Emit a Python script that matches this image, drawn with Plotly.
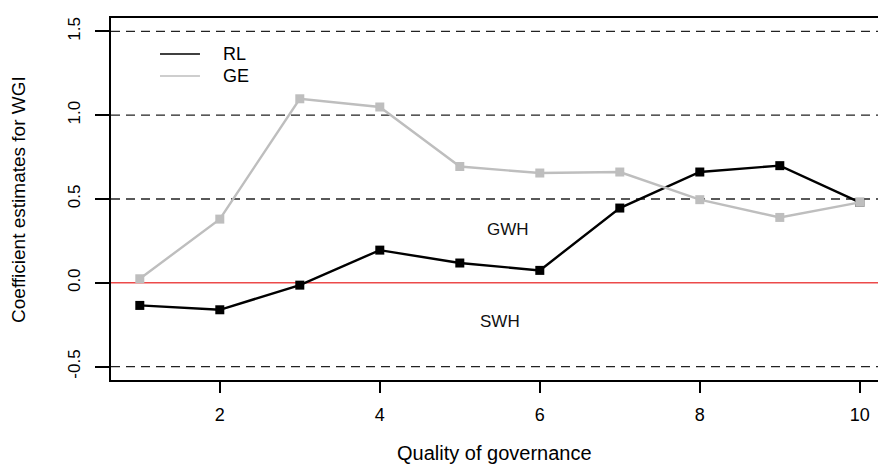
import plotly.graph_objects as go

# Quality-of-governance deciles and WGI coefficient estimates
quality = [1, 2, 3, 4, 5, 6, 7, 8, 9, 10]
rl_coef = [-0.135, -0.161, -0.014, 0.195, 0.118, 0.074, 0.446, 0.661, 0.699, 0.48]
ge_coef = [0.024, 0.380, 1.098, 1.049, 0.694, 0.655, 0.661, 0.496, 0.390, 0.48]

x_ticks = [2, 4, 6, 8, 10]
y_ticks = [-0.5, 0.0, 0.5, 1.0, 1.5]
y_tick_text = ["-0.5", "0.0", "0.5", "1.0", "1.5"]
dashed_levels = [-0.5, 0.5, 1.0, 1.5]
zero_level = 0.0

FONT = "Liberation Sans, Arial, Helvetica, sans-serif"
GREY = "#BEBEBE"

fig = go.Figure()

fig.add_trace(go.Scatter(
    x=quality, y=rl_coef, mode="lines+markers", name="RL",
    line=dict(color="black", width=2.4),
    marker=dict(symbol="square", size=9, color="black"),
    showlegend=False,
))
fig.add_trace(go.Scatter(
    x=quality, y=ge_coef, mode="lines+markers", name="GE",
    line=dict(color=GREY, width=2.4),
    marker=dict(symbol="square", size=9, color=GREY),
    showlegend=False,
))

# horizontal reference lines
for lvl in dashed_levels:
    fig.add_shape(type="line", xref="paper", yref="y", x0=0, x1=1, y0=lvl, y1=lvl,
                  line=dict(color="#222222", width=1.3, dash="9px,6px"), layer="below")
fig.add_shape(type="line", xref="paper", yref="y", x0=0, x1=1, y0=zero_level, y1=zero_level,
              line=dict(color="#EC4A4A", width=1.6), layer="below")

# region labels
fig.add_annotation(x=5.6, y=0.32, xref="x", yref="y", text="GWH", showarrow=False,
                   font=dict(family=FONT, size=17, color="#111111"))
fig.add_annotation(x=5.5, y=-0.23, xref="x", yref="y", text="SWH", showarrow=False,
                   font=dict(family=FONT, size=17, color="#111111"))

# legend (line keys with labels, no frame)
legend_items = [("RL", "black", 0.9006), ("GE", GREY, 0.8398)]
for label, colour, ypos in legend_items:
    fig.add_shape(type="line", xref="paper", yref="paper", x0=0.0639, x1=0.1160,
                  y0=ypos, y1=ypos, line=dict(color=colour, width=1.6))
    fig.add_annotation(x=0.1434, y=ypos, xref="paper", yref="paper", text=label,
                       showarrow=False, xanchor="left", yanchor="middle",
                       font=dict(family=FONT, size=18, color="black"))

# axis titles
fig.add_annotation(x=0.5, y=-0.203, xref="paper", yref="paper",
                   text="Quality of governance", showarrow=False,
                   xanchor="center", yanchor="middle",
                   font=dict(family=FONT, size=20, color="black"))
fig.add_annotation(x=-0.1213, y=0.5, xref="paper", yref="paper",
                   text="Coefficient estimates for WGI", showarrow=False, textangle=-90,
                   xanchor="center", yanchor="middle",
                   font=dict(family=FONT, size=19, color="black"))

fig.update_xaxes(
    range=[0.64, 10.2275], tickvals=x_ticks, ticks="outside", ticklen=11, tickwidth=1.5,
    tickcolor="black", showline=True, linecolor="black", linewidth=2, mirror=True,
    showgrid=False, zeroline=False, ticklabelstandoff=6,
    tickfont=dict(family=FONT, size=18, color="black"),
)
fig.update_yaxes(
    range=[-0.58, 1.58], tickvals=y_ticks, ticktext=y_tick_text, tickangle=-90,
    ticks="outside", ticklen=14, tickwidth=1.5, tickcolor="black",
    showline=True, linecolor="black", linewidth=2, mirror=False,
    showgrid=False, zeroline=False, ticklabelstandoff=8,
    tickfont=dict(family=FONT, size=17, color="black"),
)

fig.update_layout(
    width=878, height=465,
    margin=dict(l=111, r=0, t=18, b=85),
    paper_bgcolor="white", plot_bgcolor="white",
    showlegend=False,
)

fig.write_html("out.html")
